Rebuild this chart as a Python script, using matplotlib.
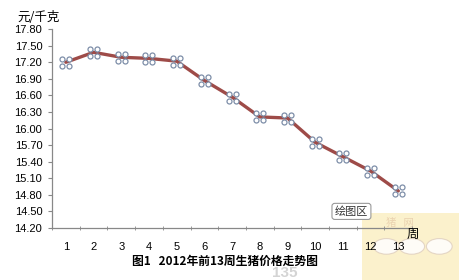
import matplotlib
matplotlib.use('Agg')
import matplotlib.pyplot as plt
import matplotlib.transforms as mtransforms
from matplotlib.patches import Rectangle, Circle

# weekly live pig price, 2012 weeks 1-13 (yuan/kg)
weeks = [1, 2, 3, 4, 5, 6, 7, 8, 9, 10, 11, 12, 13]
prices = [17.20, 17.38, 17.29, 17.27, 17.22, 16.87, 16.57, 16.21, 16.19,
          15.75, 15.49, 15.23, 14.87]
ytick_vals = [14.2, 14.5, 14.8, 15.1, 15.4, 15.7, 16.0, 16.3, 16.6, 16.9,
              17.2, 17.5, 17.8]

cjk = ['Noto Sans CJK SC', 'DejaVu Sans']
plt.rcParams['font.family'] = cjk

fig = plt.figure(figsize=(4.6, 2.8), dpi=100)
ax = fig.add_axes([0.113, 0.186, 0.783, 0.710])
ax.patch.set_alpha(0)

ax.plot(weeks, prices, color='#9e4b48', lw=2.4, zorder=2, solid_capstyle='round')

# excel style selection handles: four little circles round each point
for dx, dy in [(-3.5, -3.5), (3.5, -3.5), (-3.5, 3.5), (3.5, 3.5)]:
    off = mtransforms.ScaledTranslation(dx / 100, dy / 100, fig.dpi_scale_trans)
    ax.plot(weeks, prices, ls='none', marker='o', ms=3.6, mfc='white',
            mec='#7d8ea8', mew=0.9, transform=ax.transData + off, zorder=3)

ax.set_xlim(0.5, 13.5)
ax.set_ylim(14.2, 17.8)
ax.set_yticks(ytick_vals)
ax.set_yticklabels(['%.2f' % v for v in ytick_vals], family='Liberation Sans',
                   fontsize=8)
ax.set_xticks(weeks)
ax.set_xticklabels([str(w) for w in weeks], family='Liberation Sans', fontsize=8)
ax.set_xticks([w + 0.5 for w in range(0, 14)], minor=True)
ax.tick_params(axis='x', which='major', length=0, pad=10)
ax.tick_params(axis='x', which='minor', length=3, direction='inout', color='#888888')
ax.tick_params(axis='y', length=3, direction='out', color='#888888', pad=4)
for s in ['top', 'right']:
    ax.spines[s].set_visible(False)
for s in ['left', 'bottom']:
    ax.spines[s].set_color('#888888')
    ax.spines[s].set_linewidth(0.9)

fig.text(0.037, 0.938, '元/千克', fontsize=9, ha='left', va='center')
fig.text(0.49, 0.068, '图1   2012年前13周生猪价格走势图', fontsize=8.5,
         fontweight='bold', ha='center', va='center')

# watermark area bottom right (behind the axes)
fig.patches.append(Rectangle((0.787, 0.0), 0.213, 0.24, transform=fig.transFigure,
                             facecolor='#fbeec0', edgecolor='none', alpha=0.8,
                             zorder=-2))
for cx in [0.84, 0.895, 0.955]:
    fig.patches.append(Circle((cx, 0.12), 0.028, transform=fig.transFigure,
                              facecolor='white', edgecolor='#e0d0c0', lw=0.8,
                              alpha=0.85, zorder=-1))
fig.text(0.62, 0.0, '135', fontsize=11, color='#d4d4d4', fontweight='bold',
         ha='center', va='bottom', family='Liberation Sans', zorder=-1)
fig.text(0.84, 0.205, '猪   网', fontsize=7.5, color='#ead2b0', ha='left',
         va='center', zorder=-1)
fig.text(0.897, 0.163, '周', fontsize=9, ha='center', va='center')

# "plot area" tooltip
fig.text(0.764, 0.245, '绘图区', fontsize=8, color='#333333', ha='center', va='center',
         bbox=dict(boxstyle='round,pad=0.25', fc='white', ec='#999999', lw=0.8))

fig.savefig('out.png', dpi=100)
